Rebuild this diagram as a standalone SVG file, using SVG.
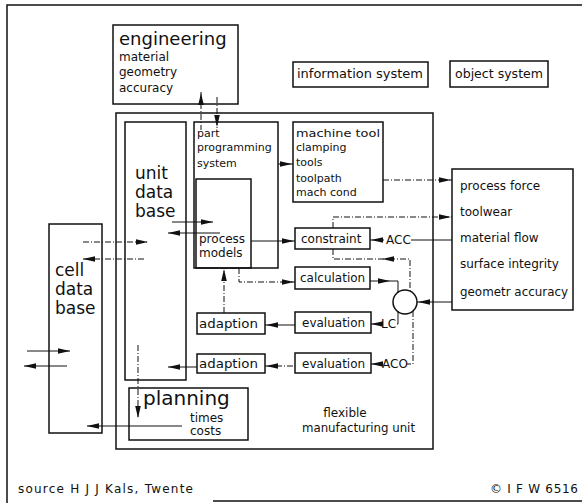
<svg xmlns="http://www.w3.org/2000/svg" xmlns:xlink="http://www.w3.org/1999/xlink" width="582" height="503" viewBox="0 0 582 503">
<style>
.box{fill:none;stroke:#111;stroke-width:1.5}
.ln{fill:none;stroke:#111;stroke-width:1}
.dl{fill:none;stroke:#111;stroke-width:1;stroke-dasharray:6 2 1 2}
.ah{fill:#111}
text{font-family:"DejaVu Sans","Liberation Sans",sans-serif;fill:#111}
.big{font-size:18px}
.db{font-size:17px}
.med{font-size:12px}
.sm{font-size:11px}
</style>
<defs>
<path id="ah" class="ah" d="M0,0 L-12,-2.8 L-12,2.8 z"/>
</defs>
<rect width="582" height="503" fill="#fff"/>
<g id="frame">
<path class="box" d="M7 503 V5 H582"/>
<path class="box" d="M213 501 H582"/>
</g>
<g id="engineering">
<rect class="box" x="113" y="25" width="125" height="79"/>
<text class="big" x="119" y="45">engineering</text>
<text class="med" x="119" y="61">material</text>
<text class="med" x="119" y="76">geometry</text>
<text class="med" x="119" y="92">accuracy</text>
</g>
<g id="information-system">
<rect class="box" x="293" y="62" width="135" height="25"/>
<text class="med" x="297" y="78" textLength="126" lengthAdjust="spacingAndGlyphs">information system</text>
</g>
<g id="object-system">
<rect class="box" x="450" y="61" width="98" height="26"/>
<text class="med" x="455" y="78" textLength="88" lengthAdjust="spacingAndGlyphs">object system</text>
</g>
<g id="flexible-manufacturing-unit">
<rect class="box" x="116" y="113" width="317" height="336"/>
<text class="med" x="345" y="417" text-anchor="middle">flexible</text>
<text class="med" x="302" y="432" textLength="113" lengthAdjust="spacingAndGlyphs">manufacturing unit</text>
</g>
<g id="unit-data-base">
<rect class="box" x="125" y="122" width="61" height="258"/>
<text class="db" x="135" y="179">unit</text>
<text class="db" x="135" y="198">data</text>
<text class="db" x="135" y="217">base</text>
</g>
<g id="part-programming-system">
<rect class="box" x="194" y="122" width="84" height="146"/>
<text class="sm" x="197" y="137">part</text>
<text class="sm" x="197" y="151">programming</text>
<text class="sm" x="197" y="167">system</text>
</g>
<g id="process-models">
<rect class="box" x="196" y="179" width="55" height="89"/>
<text class="med" x="199" y="243">process</text>
<text class="med" x="199" y="257">models</text>
</g>
<g id="machine-tool">
<rect class="box" x="293" y="122" width="90" height="80"/>
<text class="sm" x="296" y="137" textLength="84" lengthAdjust="spacingAndGlyphs">machine tool</text>
<text class="sm" x="296" y="151">clamping</text>
<text class="sm" x="296" y="166">tools</text>
<text class="sm" x="296" y="182">toolpath</text>
<text class="sm" x="296" y="196">mach cond</text>
</g>
<g id="process-state">
<rect class="box" x="452" y="169" width="121" height="141"/>
<text class="med" x="460" y="190">process force</text>
<text class="med" x="460" y="216">toolwear</text>
<text class="med" x="460" y="242">material flow</text>
<text class="med" x="460" y="268">surface integrity</text>
<text class="med" x="460" y="296" textLength="108" lengthAdjust="spacingAndGlyphs">geometr accuracy</text>
</g>
<g id="constraint">
<rect class="box" x="295" y="228" width="75" height="21"/>
<text class="med" x="301" y="243">constraint</text>
</g>
<g id="calculation">
<rect class="box" x="295" y="267" width="75" height="22"/>
<text class="med" x="300" y="282">calculation</text>
</g>
<g id="evaluation-lc">
<rect class="box" x="295" y="312" width="76" height="21"/>
<text class="med" x="302" y="327">evaluation</text>
</g>
<g id="evaluation-aco">
<rect class="box" x="295" y="353" width="76" height="20"/>
<text class="med" x="302" y="368">evaluation</text>
</g>
<g id="adaption-lc">
<rect class="box" x="197" y="313" width="68" height="21"/>
<text class="med" x="199" y="328" textLength="59" lengthAdjust="spacingAndGlyphs">adaption</text>
</g>
<g id="adaption-aco">
<rect class="box" x="197" y="354" width="68" height="19"/>
<text class="med" x="199" y="368" textLength="59" lengthAdjust="spacingAndGlyphs">adaption</text>
</g>
<g id="comparator">
<circle class="box" cx="405" cy="302" r="12"/>
</g>
<g id="cell-data-base">
<rect class="box" x="49" y="224" width="53" height="209"/>
<text class="db" x="55" y="276">cell</text>
<text class="db" x="55" y="295">data</text>
<text class="db" x="55" y="314">base</text>
</g>
<g id="planning">
<rect class="box" x="129" y="388" width="119" height="52"/>
<text style="font-size:20px" x="143" y="405">planning</text>
<text class="med" x="190" y="422">times</text>
<text class="med" x="190" y="435">costs</text>
</g>
<g id="labels">
<text class="med" x="386" y="244">ACC</text>
<text class="med" x="381" y="328">LC</text>
<text class="med" x="382" y="368">ACO</text>
<text class="med" x="18" y="493" textLength="175" lengthAdjust="spacing">source  H J J  Kals, Twente</text>
<text class="med" x="490" y="493" textLength="88" lengthAdjust="spacing">© I F W 6516</text>
</g>
<g id="connectors">
<path class="dl" d="M201 92 V130"/>
<use xlink:href="#ah" transform="translate(201,93) rotate(-90)"/>
<path class="dl" d="M217 97 V130"/>
<use xlink:href="#ah" transform="translate(217,127) rotate(90)"/>
<path class="ln" d="M278 164 H293"/>
<use xlink:href="#ah" transform="translate(292,164)"/>
<path class="dl" d="M383 180 H452"/>
<use xlink:href="#ah" transform="translate(451,180)"/>
<path class="dl" d="M333 228 V217 H452"/>
<use xlink:href="#ah" transform="translate(451,217)"/>
<path class="ln" d="M411 240 H452"/>
<path class="ln" d="M370 240 H384"/>
<use xlink:href="#ah" transform="translate(371,240) rotate(180)"/>
<path class="ln" d="M251 241 H295"/>
<use xlink:href="#ah" transform="translate(294,241)"/>
<path class="dl" d="M333 249 V259 H410 V291"/>
<use xlink:href="#ah" transform="translate(382,259) rotate(180)"/>
<path class="dl" d="M239 268 V282 H295"/>
<use xlink:href="#ah" transform="translate(294,282)"/>
<path class="ln" d="M370 281 H398 V293"/>
<use xlink:href="#ah" transform="translate(390,281)"/>
<path class="ln" d="M417 302 H452"/>
<use xlink:href="#ah" transform="translate(418,302) rotate(180)"/>
<path class="ln" d="M398 311 V324 H397"/>
<path class="ln" d="M371 324 H380"/>
<use xlink:href="#ah" transform="translate(371,324) rotate(180)"/>
<path class="dl" d="M413 311 V364 H407"/>
<path class="ln" d="M371 364 H381"/>
<use xlink:href="#ah" transform="translate(371,364) rotate(180)"/>
<path class="ln" d="M265 325 H295"/>
<use xlink:href="#ah" transform="translate(266,325) rotate(180)"/>
<path class="dl" d="M265 366 H295"/>
<use xlink:href="#ah" transform="translate(266,366) rotate(180)"/>
<path class="dl" d="M224 313 V268"/>
<use xlink:href="#ah" transform="translate(224,269) rotate(-90)"/>
<path class="ln" d="M197 367 H168"/>
<use xlink:href="#ah" transform="translate(168,367) rotate(180)"/>
<path class="ln" d="M172 222 H213"/>
<use xlink:href="#ah" transform="translate(213,222)"/>
<path class="ln" d="M168 233 H220"/>
<use xlink:href="#ah" transform="translate(168,233) rotate(180)"/>
<path class="dl" d="M83 242 H148"/>
<use xlink:href="#ah" transform="translate(148,242)"/>
<path class="dl" d="M83 259 H146"/>
<use xlink:href="#ah" transform="translate(83,259) rotate(180)"/>
<path class="ln" d="M27 351 H70"/>
<use xlink:href="#ah" transform="translate(70,351)"/>
<path class="ln" d="M24 366 H67"/>
<use xlink:href="#ah" transform="translate(24,366) rotate(180)"/>
<path class="ln" d="M182 426 H87"/>
<use xlink:href="#ah" transform="translate(87,426) rotate(180)"/>
<path class="dl" d="M138 345 V418"/>
<use xlink:href="#ah" transform="translate(138,418) rotate(90)"/>
</g>
</svg>
